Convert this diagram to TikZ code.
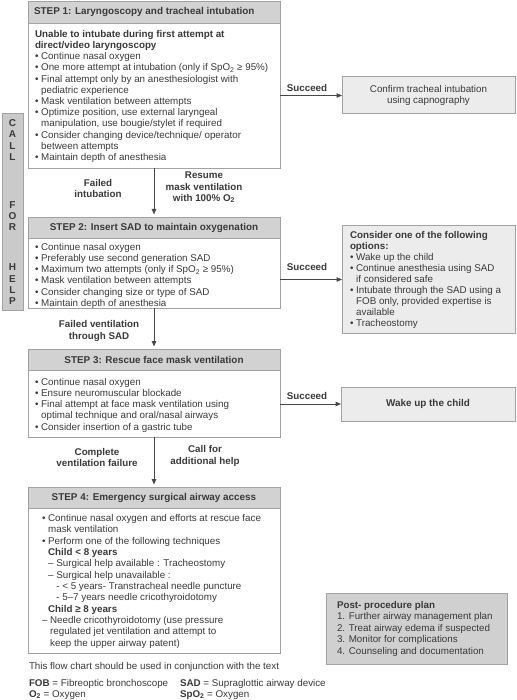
\documentclass[tikz,border=0pt]{standalone}
\usepackage{fontspec}
\setmainfont{Liberation Sans}
\usetikzlibrary{arrows.meta}
\definecolor{txt}{HTML}{3A3A3A}
\definecolor{hdrfill}{HTML}{D2D2D2}
\definecolor{boxline}{HTML}{A2A2A2}
\definecolor{sidefill}{HTML}{ECECEC}
\definecolor{postfill}{HTML}{D0D0D0}
\definecolor{barfill}{HTML}{CACACA}
\definecolor{arrowcol}{HTML}{474747}
\newcommand\bphan{\phantom{• }}
\begin{document}
\begin{tikzpicture}[x=1pt,y=-1pt,
  every node/.style={text=txt, inner sep=0pt, outer sep=0pt},
  bodyfont/.style={font=\fontsize{9.8}{11.2}\selectfont},
  hdrbox/.style={draw=boxline, fill=hdrfill, line width=0.8pt, anchor=north west, minimum width=252pt, minimum height=#1},
  bodybox/.style={draw=boxline, fill=white, line width=0.8pt, anchor=north west, minimum width=252pt, minimum height=#1},
  sidebox/.style={draw=boxline, fill=sidefill, line width=1pt, anchor=north west, minimum width=#1},
  bodytext/.style={bodyfont, align=left, anchor=north west},
  hdrtext/.style={font=\fontsize{9.9}{11.2}\selectfont\bfseries},
  lbl/.style={font=\fontsize{9.8}{11.2}\selectfont\bfseries, align=center},
  arr/.style={draw=arrowcol, line width=1pt, -{Triangle[length=5.5pt,width=4.5pt]}},
]
\useasboundingbox (0,0) rectangle (516,700);
\fill[white] (0,0) rectangle (516,700);

% ---------- CALL FOR HELP bar ----------
\node[draw=boxline, fill=barfill, line width=0.8pt, anchor=north west, minimum width=21pt, minimum height=197pt] (help) at (2,113) {};
\node[lbl, font=\fontsize{10}{11.3}\selectfont\bfseries] (hcall) at (12.5,140) {C\\A\\L\\L};
\node[lbl, font=\fontsize{10}{11.3}\selectfont\bfseries] (hfor) at (12.5,216) {F\\O\\R};
\node[lbl, font=\fontsize{10}{11.3}\selectfont\bfseries] (hhelp) at (12.5,284.5) {H\\E\\L\\P};

% ---------- STEP 1 ----------
\node[hdrbox=22pt] (s1h) at (28,1) {};
\node[hdrtext, anchor=west] (s1ht) at (34,12) {STEP 1: Laryngoscopy and tracheal intubation};
\node[bodybox=145pt] (s1b) at (28,23) {};
\node[bodytext] (s1t) at (35,29.4) {\strut\textbf{Unable to intubate during first attempt at}\\
\textbf{direct/video laryngoscopy}\\
• Continue nasal oxygen\\
• One more attempt at intubation (only if SpO\textsubscript{2} ≥ 95\%)\\
• Final attempt only by an anesthesiologist with\\
\bphan pediatric experience\\
• Mask ventilation between attempts\\
• Optimize position, use external laryngeal\\
\bphan manipulation, use bougie/stylet if required\\
• Consider changing device/technique/ operator\\
\bphan between attempts\\
• Maintain depth of anesthesia};

% ---------- STEP 2 ----------
\node[hdrbox=21pt] (s2h) at (28,217) {};
\node[hdrtext] (s2ht) at (s2h.center) {STEP 2: Insert SAD to maintain oxygenation};
\node[bodybox=70pt] (s2b) at (28,238) {};
\node[bodytext] (s2t) at (35,242.4) {\strut• Continue nasal oxygen\\
• Preferably use second generation SAD\\
• Maximum two attempts (only if SpO\textsubscript{2} ≥ 95\%)\\
• Mask ventilation between attempts\\
• Consider changing size or type of SAD\\
• Maintain depth of anesthesia};

% ---------- STEP 3 ----------
\node[hdrbox=21pt] (s3h) at (28,349) {};
\node[hdrtext] (s3ht) at (s3h.center) {STEP 3: Rescue face mask ventilation};
\node[bodybox=67pt] (s3b) at (28,370) {};
\node[bodytext] (s3t) at (35,377.4) {\strut• Continue nasal oxygen\\
• Ensure neuromuscular blockade\\
• Final attempt at face mask ventilation using\\
\bphan optimal technique and oral/nasal airways\\
• Consider insertion of a gastric tube};

% ---------- STEP 4 ----------
\node[hdrbox=21pt] (s4h) at (28,487) {};
\node[hdrtext] (s4ht) at (s4h.center) {STEP 4: Emergency surgical airway access};
\node[bodybox=145pt] (s4b) at (28,508) {};
\node[bodytext, font=\fontsize{9.8}{11.35}\selectfont] (s4t) at (42,513.4) {\strut• Continue nasal oxygen and efforts at rescue face\\
\bphan mask ventilation\\
• Perform one of the following techniques\\
\bphan\textbf{Child < 8 years}\\
\bphan – Surgical help available : Tracheostomy\\
\bphan – Surgical help unavailable :\\
\bphan\phantom{– }- < 5 years- Transtracheal needle puncture\\
\bphan\phantom{– }- 5–7 years needle cricothyroidotomy\\
\bphan\textbf{Child ≥ 8 years}\\
– Needle cricothyroidotomy (use pressure\\
\phantom{– }regulated jet ventilation and attempt to\\
\phantom{– }keep the upper airway patent)};

% ---------- right-hand boxes ----------
\node[sidebox=173pt, minimum height=37pt] (cap) at (342,77) {};
\node[bodyfont, align=center] (capt) at (cap.center) {Confirm tracheal intubation\\using capnography};

\node[sidebox=173pt, minimum height=107pt] (cons) at (342,226) {};
\node[bodytext, font=\fontsize{9.8}{11.1}\selectfont] (const) at (350,230.4) {\strut\textbf{Consider one of the following}\\
\textbf{options:}\\
• Wake up the child\\
• Continue anesthesia using SAD\\
\bphan if considered safe\\
• Intubate through the SAD using a\\
\bphan FOB only, provided expertise is\\
\bphan available\\
• Tracheostomy};

\node[sidebox=174pt, minimum height=34pt] (wake) at (341,387) {};
\node[hdrtext] (waket) at (wake.center) {Wake up the child};

\node[draw=boxline, fill=postfill, line width=1pt, anchor=north west, minimum width=181pt, minimum height=71pt] (post) at (326,593) {};
\node[bodytext, font=\fontsize{9.8}{11.5}\selectfont] (postt) at (337,600.4) {\strut\textbf{Post- procedure plan}\\
1. Further airway management plan\\
2. Treat airway edema if suspected\\
3. Monitor for complications\\
4. Counseling and documentation};

% ---------- connectors ----------
\draw[arr, shorten >=2.5pt] (s1b.south) -- (s2h.north);
\draw[arr, shorten >=2.5pt] (s2b.south) -- (s3h.north);
\draw[arr, shorten >=2.5pt] (s3b.south) -- (s4h.north);
\draw[arr] (s1b.east |- cap.west) -- (cap.west);
\draw[arr] (s2b.east |- cons.west) -- (cons.west);
\draw[arr] (s3b.east |- wake.west) -- (wake.west);

% ---------- connector labels ----------
\node[lbl] (l1a) at (98,188.5) {Failed\\intubation};
\node[lbl] (l1b) at (204,187.5) {Resume\\mask ventilation\\with 100\% O\textsubscript{2}};
\node[lbl] (l2a) at (99,331) {Failed ventilation\\through SAD};
\node[lbl] (l3a) at (97,457.5) {Complete\\ventilation failure};
\node[lbl] (l3b) at (205,456) {Call for\\additional help};
\node[lbl] (sc1) at (307,88) {Succeed};
\node[lbl] (sc2) at (307,267) {Succeed};
\node[lbl] (sc3) at (307,396) {Succeed};

% ---------- footnotes ----------
\node[bodyfont, anchor=base west] (note) at (29,669.8) {This flow chart should be used in conjunction with the text};
\node[bodyfont, anchor=base west] (fob) at (29,686.6) {\textbf{FOB} = Fibreoptic bronchoscope};
\node[bodyfont, anchor=base west] (sad) at (180,686.6) {\textbf{SAD} = Supraglottic airway device};
\node[bodyfont, anchor=base west] (o2) at (29,697.2) {\textbf{O\textsubscript{2}} = Oxygen};
\node[bodyfont, anchor=base west] (spo2) at (180,697.2) {\textbf{SpO\textsubscript{2}} = Oxygen};
\end{tikzpicture}
\end{document}
